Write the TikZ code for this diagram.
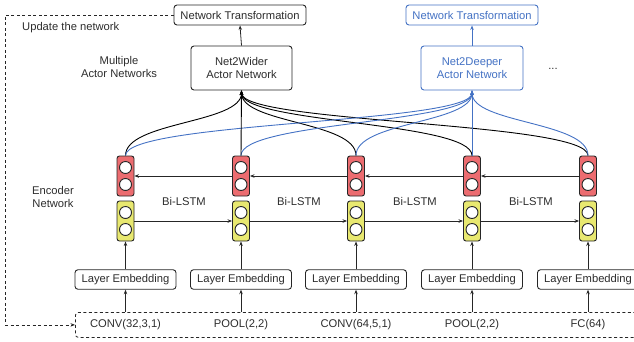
\documentclass[tikz,border=0pt]{standalone}
\usepackage{fontspec}
\setmainfont{Liberation Sans}
\usetikzlibrary{arrows.meta,calc}
\definecolor{myblue}{RGB}{68,114,196}
\definecolor{cellred}{RGB}{236,108,112}
\definecolor{cellyel}{RGB}{232,232,112}
\definecolor{txt}{RGB}{45,45,45}
\begin{document}
\begin{tikzpicture}[x=1pt,y=-1pt,
  font=\fontsize{11.2}{13.2}\selectfont, text=txt,
  box/.style={draw=black!85, rounded corners=3pt, line width=0.9pt, inner sep=0pt, fill=white, align=center},
  bbox/.style={box, draw=myblue, text=myblue},
  cellr/.style={draw=black!85, rounded corners=2.5pt, fill=cellred, minimum width=17, minimum height=40, line width=0.9pt, inner sep=0pt},
  celly/.style={cellr, fill=cellyel},
  dot/.style={circle, draw=black!85, fill=white, minimum size=12, inner sep=0pt, line width=0.9pt},
  arr/.style={-{Stealth[length=4.5pt,width=3.5pt]}, line width=0.8pt, draw=black!85},
  barr/.style={arr, draw=myblue, line width=0.9pt},
  karr/.style={arr, draw=black, line width=0.9pt},
  fbline/.style={arr, dashed, dash pattern=on 3pt off 2.5pt},
  lbl/.style={align=center, inner sep=0pt}
]
\useasboundingbox (0,0) rectangle (634,341);

% top boxes
\node[box, minimum width=132, minimum height=20] (ntw) at (240,15) {Network Transformation};
\node[bbox, minimum width=132, minimum height=20] (ntd) at (472,15) {Network Transformation};
\node[box, minimum width=101, minimum height=44] (wider) at (241.5,68) {Net2Wider\\Actor Network};
\node[bbox, minimum width=102, minimum height=44] (deeper) at (472,68) {Net2Deeper\\Actor Network};
\node[lbl] (dots) at (553,69) {...};

\node[lbl, anchor=west] (upd) at (22,28) {Update the network};
\node[lbl] (mult) at (119,67) {Multiple\\Actor Networks};
\node[lbl] (enc) at (53,197) {Encoder\\Network};

% input dashed box
\node[draw=black!85, dashed, dash pattern=on 3pt off 2.5pt, rounded corners=3pt, line width=0.8pt,
      minimum width=575, minimum height=25, anchor=north west, inner sep=0pt] (inbox) at (75,312) {};

% columns
\foreach \i/\x/\t in {1/125.5/{CONV(32,3,1)}, 2/241/{POOL(2,2)}, 3/356/{CONV(64,5,1)}, 4/472/{POOL(2,2)}, 5/588/{FC(64)}} {
  \node[cellr] (r\i) at (\x,176) {};
  \node[celly] (y\i) at (\x,221) {};
  \node[dot] (r\i a) at (\x,167.5) {};
  \node[dot] (r\i b) at (\x,184.5) {};
  \node[dot] (y\i a) at (\x,212.5) {};
  \node[dot] (y\i b) at (\x,229.5) {};
  \node[box, minimum width=101, minimum height=19.5] (le\i) at (\x,279.5) {Layer Embedding};
  \node[lbl] (in\i) at (\x,324.5) {\t};
  \draw[arr] (le\i.north) -- (y\i.south);
  \draw[arr] (inbox.north -| le\i) -- (le\i.south);
}

% Bi-LSTM links
\foreach \a/\b in {1/2,2/3,3/4,4/5} {
  \draw[arr] (r\b.west) -- (r\a.east);
  \draw[arr] (y\a.east) -- (y\b.west);
}
\foreach \i/\x in {1/184,2/299,3/415,4/531} {
  \node[lbl] (bl\i) at (\x,201) {Bi-LSTM};
}

% curves to actor networks
\foreach \i in {1,3,4,5} {
  \draw[karr] (r\i.north) .. controls +(0,-34) and +(0,33) .. (wider.south);
}
\foreach \i in {1,2,3,5} {
  \draw[barr] (r\i.north) .. controls +(0,-34) and +(0,33) .. (deeper.south);
}
\draw[karr] (r2.north) -- (wider.south);
\draw[barr] (r4.north) -- (deeper.south);

% transformations
\draw[arr] (wider.north) -- (ntw.south);
\draw[barr] (deeper.north) -- (ntd.south);

% feedback
\coordinate (fbc) at (5,15);
\draw[fbline] (ntw.west) -- (fbc) |- (inbox.west);
\end{tikzpicture}
\end{document}
